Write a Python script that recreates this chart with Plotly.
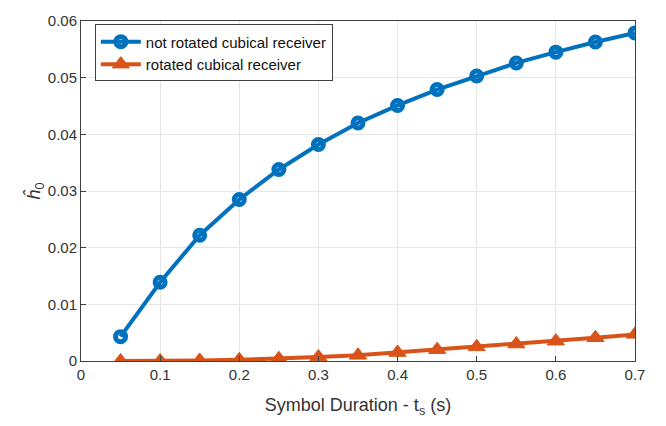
import plotly.graph_objects as go

ts = [0.05, 0.1, 0.15, 0.2, 0.25, 0.3, 0.35, 0.4, 0.45, 0.5, 0.55, 0.6, 0.65, 0.7]
not_rotated = [0.0043, 0.0139, 0.0222, 0.0285, 0.0338, 0.0382, 0.0420, 0.0451, 0.0479, 0.0503, 0.0526, 0.0545, 0.0563, 0.0579]
rotated = [0.0000, 0.0000, 0.0001, 0.0002, 0.0004, 0.0007, 0.0010, 0.0015, 0.0020, 0.0025, 0.0030, 0.0035, 0.0041, 0.0047]

x_ticks = [0, 0.1, 0.2, 0.3, 0.4, 0.5, 0.6, 0.7]
x_labels = ["0", "0.1", "0.2", "0.3", "0.4", "0.5", "0.6", "0.7"]
y_ticks = [0, 0.01, 0.02, 0.03, 0.04, 0.05, 0.06]
y_labels = ["0", "0.01", "0.02", "0.03", "0.04", "0.05", "0.06"]

blue = "#0072BD"
orange = "#D95319"

fig = go.Figure()
fig.add_trace(go.Scatter(
    x=ts, y=not_rotated, mode="lines+markers", name="not rotated cubical receiver",
    line=dict(color=blue, width=4),
    marker=dict(symbol="circle-open", size=10, color=blue, line=dict(color=blue, width=5)),
))
fig.add_trace(go.Scatter(
    x=ts, y=rotated, mode="lines+markers", name="rotated cubical receiver",
    line=dict(color=orange, width=4),
    marker=dict(symbol="triangle-up", size=15, color=orange, line=dict(color=orange, width=1)),
))

axis_common = dict(
    showgrid=True, gridcolor="#E6E6E6", gridwidth=1,
    showline=True, linecolor="#404040", linewidth=1, mirror=True,
    ticks="inside", ticklen=5, tickcolor="#404040",
    zeroline=False,
    tickfont=dict(family="Liberation Sans, Arial, sans-serif", size=15, color="#333333"),
)

fig.update_layout(
    width=666, height=426,
    margin=dict(l=81, r=31, t=12, b=65),
    paper_bgcolor="white", plot_bgcolor="white",
    font=dict(family="Liberation Sans, Arial, sans-serif", color="#333333"),
    xaxis=dict(range=[0, 0.7], tickvals=x_ticks, ticktext=x_labels,
               title=dict(text="Symbol Duration - t<sub>s</sub> (s)", font=dict(size=18, color="#333333"), standoff=16),
               **axis_common),
    yaxis=dict(range=[0, 0.06], tickvals=y_ticks, ticktext=y_labels,
               title=dict(text="<i>ĥ</i><sub>0</sub>", font=dict(size=18, color="#333333"), standoff=2),
               **axis_common),
    legend=dict(x=0.025, y=0.99, xanchor="left", yanchor="top",
                bgcolor="white", bordercolor="#404040", borderwidth=1,
                font=dict(size=15, color="#111111"), tracegroupgap=0,
                itemwidth=40),
    showlegend=True,
)

fig.write_html("out.html")
